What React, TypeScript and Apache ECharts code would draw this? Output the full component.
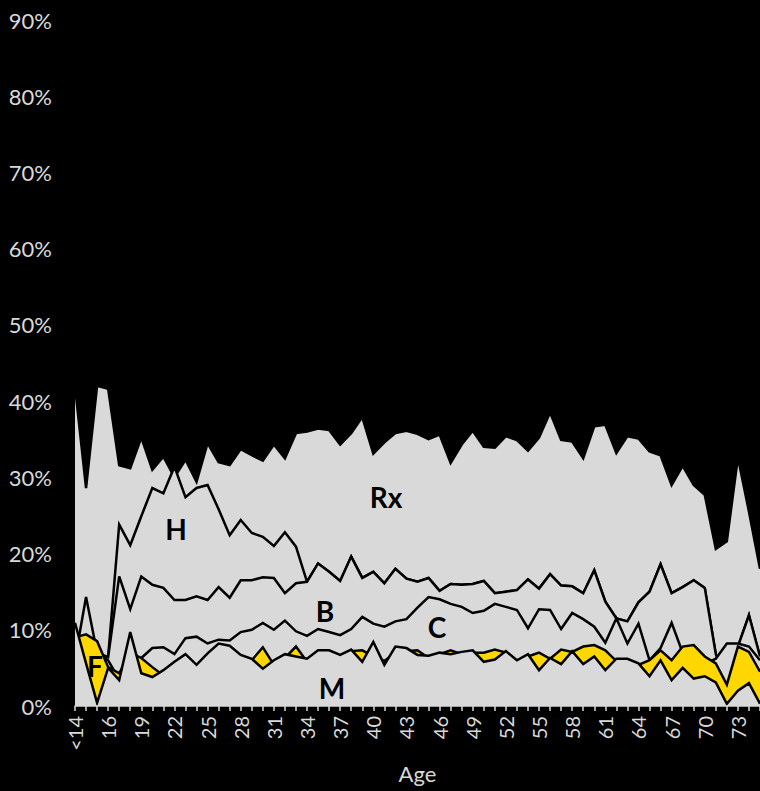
import React, { useEffect, useRef } from "react";
import * as echarts from "echarts";

const ages = ["<14","14","15","16","17","18","19","20","21","22","23","24","25","26","27","28","29","30","31","32","33","34","35","36","37","38","39","40","41","42","43","44","45","46","47","48","49","50","51","52","53","54","55","56","57","58","59","60","61","62","63","64","65","66","67","68","69","70","71","72","73","74","75"];

const yTicks = [0, 10, 20, 30, 40, 50, 60, 70, 80, 90];

const rx = [41.9, 28.6, 42.0, 41.6, 31.6, 31.2, 35.2, 31.0, 32.7, 30.0, 32.3, 29.4, 34.5, 32.0, 31.6, 33.7, 32.9, 32.2, 34.3, 32.5, 35.8, 36.0, 36.4, 36.2, 34.3, 35.8, 37.9, 33.1, 34.6, 35.8, 36.1, 35.7, 35.0, 35.6, 31.9, 34.3, 36.1, 34.0, 33.9, 35.4, 34.9, 33.5, 35.2, 38.5, 34.9, 34.7, 32.5, 36.7, 36.9, 33.2, 35.4, 35.1, 33.4, 32.9, 29.0, 31.5, 29.0, 27.7, 20.6, 21.6, 32.6, 25.5, 18.0];

const h = [6.0, 6.0, 6.0, 6.5, 23.8, 21.1, 24.9, 28.6, 27.9, 31.4, 27.4, 28.6, 29.0, 25.8, 22.4, 24.4, 22.7, 22.2, 21.0, 22.8, 20.9, 16.3, 18.7, 17.6, 16.4, 19.6, 16.8, 17.6, 16.1, 18.0, 16.7, 16.3, 16.8, 15.1, 16.0, 15.9, 16.0, 16.4, 14.8, 15.0, 15.2, 16.6, 15.4, 17.3, 15.8, 15.7, 14.8, 17.8, 13.7, 11.5, 11.1, 13.6, 15.0, 18.6, 14.8, 15.6, 16.5, 15.5, 6.8, 3.0, 7.8, 11.9, 6.5];

const b = [6.1, 14.3, 7.0, 6.4, 17.0, 12.7, 17.0, 15.9, 15.5, 13.9, 13.9, 14.4, 13.9, 15.6, 14.2, 16.5, 16.5, 16.9, 16.8, 14.8, 16.1, 16.3, 18.7, 17.6, 16.4, 19.6, 16.8, 17.6, 16.1, 18.0, 16.7, 16.3, 16.8, 15.1, 16.0, 15.9, 16.0, 16.4, 14.8, 15.0, 15.2, 16.6, 15.4, 17.3, 15.8, 15.7, 14.8, 17.8, 13.7, 11.5, 11.1, 13.6, 15.0, 18.6, 14.8, 15.6, 16.5, 15.5, 6.8, 3.0, 7.8, 11.9, 6.5];

const c = [8.0, 8.0, 7.0, 6.0, 3.5, 6.0, 6.3, 7.6, 7.7, 6.8, 8.9, 9.1, 8.2, 8.7, 8.6, 9.7, 10.0, 10.9, 10.0, 11.2, 9.8, 9.2, 10.1, 9.7, 9.3, 10.1, 11.7, 10.8, 10.4, 11.1, 11.4, 12.9, 14.3, 14.0, 13.4, 13.0, 12.2, 12.5, 13.4, 13.0, 12.6, 10.2, 12.7, 12.6, 10.1, 12.2, 11.4, 10.4, 8.3, 11.5, 8.2, 10.8, 6.0, 7.6, 10.9, 7.0, 6.5, 5.5, 6.2, 8.2, 8.2, 7.8, 6.0];

const f = [9.0, 9.4, 8.5, 5.1, 4.3, 7.0, 6.3, 5.1, 4.0, 5.0, 6.0, 5.0, 6.5, 7.8, 7.5, 6.3, 6.0, 7.7, 5.4, 6.3, 7.8, 5.8, 6.8, 6.9, 6.4, 7.2, 7.3, 6.5, 5.9, 7.0, 7.2, 7.3, 6.3, 6.8, 7.3, 6.8, 7.0, 7.0, 7.4, 7.0, 5.7, 6.5, 7.0, 6.2, 7.4, 7.1, 7.8, 8.0, 7.3, 5.9, 5.8, 5.4, 6.0, 7.3, 6.0, 7.8, 8.0, 6.5, 5.6, 2.8, 7.8, 7.1, 4.5];

const m = [10.9, 5.6, 0.4, 5.0, 3.4, 9.7, 4.3, 3.8, 4.7, 5.8, 6.8, 5.4, 6.9, 8.2, 7.9, 6.7, 6.2, 4.9, 6.0, 6.8, 6.5, 6.2, 7.3, 7.3, 6.7, 7.4, 5.8, 8.4, 5.4, 7.8, 7.6, 6.7, 6.6, 7.0, 6.8, 7.1, 7.3, 5.8, 6.1, 7.2, 6.0, 6.8, 4.7, 6.3, 5.5, 7.2, 5.5, 6.5, 4.7, 6.2, 6.2, 5.6, 3.9, 6.0, 3.4, 5.0, 3.6, 3.9, 3.1, 0.3, 2.0, 3.0, 0.3];

const seriesNames = ["Rx", "H", "B", "C", "F", "M"];
const seriesData = [rx, h, b, c, f, m];
const seriesFill = ["#d9d9d9", "#d9d9d9", "#d9d9d9", "#d9d9d9", "#ffd700", "#d9d9d9"];

const regionLabels = [
  { text: "Rx", x: 386, y: 497 },
  { text: "H", x: 176, y: 529 },
  { text: "B", x: 325, y: 611 },
  { text: "C", x: 437, y: 627 },
  { text: "F", x: 95, y: 666 },
  { text: "M", x: 332, y: 688 },
];

export default function App() {
  const ref = useRef<HTMLDivElement>(null);

  useEffect(() => {
    document.body.style.margin = "0";
    document.body.style.background = "#000";
    const chart = echarts.init(ref.current!, undefined, { renderer: "svg" });
    const font = "Lato, 'Open Sans', sans-serif";
    chart.setOption({
      animation: false,
      backgroundColor: "#000000",
      grid: { left: 75, right: -4, top: 20, bottom: 85, containLabel: false },
      xAxis: {
        type: "category",
        data: ages,
        boundaryGap: false,
        z: 10,
        axisLine: { show: true, lineStyle: { color: "#d9d9d9", width: 1.5 } },
        axisTick: { show: true, interval: 0, length: 5, lineStyle: { color: "#d9d9d9", width: 1.5 } },
        axisLabel: { interval: 2, rotate: 90, color: "#d9d9d9", fontSize: 20, fontFamily: font, margin: 10 },
        name: "Age",
        nameLocation: "middle",
        nameGap: 56,
        nameTextStyle: { color: "#d9d9d9", fontSize: 22, fontFamily: font },
        splitLine: { show: false },
      },
      yAxis: {
        type: "value",
        min: yTicks[0],
        max: yTicks[yTicks.length - 1],
        interval: 10,
        axisLine: { show: false },
        axisTick: { show: false },
        splitLine: { show: false },
        axisLabel: { formatter: "{value}%", color: "#d9d9d9", fontSize: 22, fontFamily: font, margin: 23 },
      },
      series: seriesNames.map((name, i) => ({
        name,
        type: "line",
        data: seriesData[i],
        z: 2 + i,
        showSymbol: false,
        symbol: "none",
        silent: true,
        lineStyle: { color: "#000000", width: 2.5, join: "miter" },
        areaStyle: { color: seriesFill[i], opacity: 1, origin: "start" },
      })),
      graphic: regionLabels.map((l) => ({
        type: "text",
        x: l.x,
        y: l.y,
        z: 100,
        style: {
          text: l.text,
          align: "center",
          verticalAlign: "middle",
          fontSize: 28,
          fontWeight: "bold",
          fontFamily: font,
          fill: "#000000",
        },
      })),
    });
    return () => chart.dispose();
  }, []);

  return (
    <div
      ref={ref}
      style={{ position: "absolute", left: 0, top: 0, width: 760, height: 791, background: "#000" }}
    />
  );
}
